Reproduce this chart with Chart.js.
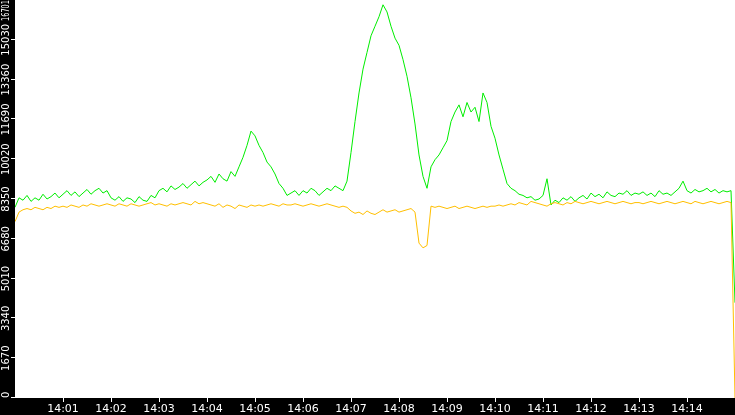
<!DOCTYPE html>
<html><head><meta charset="utf-8">
<script src="https://cdn.jsdelivr.net/npm/chart.js@4"></script>
<style>html,body{margin:0;padding:0;background:#000}#w{width:735px;height:415px}</style>
</head><body><div id="w"><canvas id="c"></canvas></div>
<script>
const stepSeconds = 5;
const green = [
8000,8400,8300,8500,8250,8400,8300,8550,8350,8450,8600,8400,
8550,8700,8500,8650,8450,8600,8750,8550,8700,8800,8600,8700,
8400,8300,8450,8250,8400,8350,8200,8450,8300,8250,8500,8400,
8700,8800,8650,8900,8750,8850,9000,8800,8950,9100,8900,9050,
9150,9300,9050,9400,9200,9100,9500,9300,9700,10100,10600,11200,
11000,10600,10300,9900,9700,9400,9000,8800,8500,8600,8700,8500,
8700,8600,8800,8700,8500,8650,8800,8700,8900,8800,8700,9100,
10300,11600,12800,13800,14500,15200,15600,16000,16500,16200,15600,15100,
14800,14200,13500,12600,11500,10200,9300,8800,9700,10000,10200,10500,
10800,11600,12000,12300,11800,12400,12000,12200,11600,12800,12400,11400,
10900,10200,9600,9000,8800,8700,8550,8500,8400,8450,8300,8350,
8500,9200,8100,8300,8200,8400,8300,8450,8250,8400,8500,8350,
8600,8450,8550,8400,8650,8500,8450,8600,8550,8700,8500,8600,
8550,8650,8500,8600,8450,8700,8550,8600,8500,8650,8800,9100,
8700,8600,8750,8650,8700,8800,8650,8750,8600,8700,8650,8700,4000];
const orange = [
7400,7800,7900,7950,7900,8000,7950,7900,8000,7950,8050,8000,
8050,8000,8100,8050,8000,8100,8050,8150,8100,8050,8100,8150,
8100,8050,8150,8100,8050,8150,8100,8050,8100,8150,8200,8100,
8150,8100,8050,8150,8100,8150,8200,8150,8100,8250,8150,8200,
8150,8100,8050,8150,8000,8100,8050,7950,8100,8050,8000,8100,
8050,8100,8050,8100,8150,8100,8050,8150,8100,8100,8150,8100,
8050,8100,8150,8100,8050,8100,8150,8100,8050,8000,8050,8000,
7850,7750,7800,7700,7850,7750,7700,7800,7900,7800,7850,7900,
7800,7850,7900,7950,7800,6500,6300,6400,8050,8000,8050,8000,
7950,8000,8050,7950,8000,8050,8000,7950,8000,8050,8000,8050,
8050,8100,8050,8100,8150,8100,8200,8150,8100,8250,8200,8150,
8100,8050,8150,8200,8150,8100,8200,8150,8250,8200,8150,8200,
8250,8200,8150,8200,8250,8200,8150,8200,8250,8200,8150,8200,
8200,8150,8200,8250,8200,8150,8200,8250,8200,8150,8200,8250,
8200,8150,8250,8200,8150,8200,8250,8200,8150,8200,8250,8200,0];
const yMax = 16701;
const yTickLabels = ['0','1670','3340','5010','6680','8350','10020','11690','13360','15030','16701'];
const xTickLabels = ['14:00','14:01','14:02','14:03','14:04','14:05','14:06','14:07','14:08','14:09','14:10','14:11','14:12','14:13','14:14','14:15'];

const pts = a => a.map((v,i)=>({x:i*stepSeconds,y:v}));
const font = {family:'DejaVu Sans', size:11};

const bg = {id:'bg', beforeDraw(ch){const c=ch.ctx;c.save();c.fillStyle='#000';c.fillRect(0,0,ch.width,ch.height);
  const a=ch.chartArea;c.fillStyle='#fff';c.fillRect(a.left,a.top,a.right-a.left,a.bottom-a.top);c.restore();}};
const yLab = {id:'ylab', afterDraw(ch){const c=ch.ctx, s=ch.scales.y, a=ch.chartArea;c.save();
  c.fillStyle='#fff';c.strokeStyle='#fff';c.lineWidth=1;c.font='10px DejaVu Sans';c.textAlign='center';c.textBaseline='middle';
  yTickLabels.forEach((t,i)=>{const v=i*yMax/10;const p=s.getPixelForValue(v);
    c.beginPath();c.moveTo(a.left-4,Math.round(p)-0.5);c.lineTo(a.left,Math.round(p)-0.5);c.stroke();
    let w=c.measureText(t).width;let cy=p, sx=1;
    if(cy-w/2<0){sx=21/w;w=21;cy=w/2;}
    if(cy+w/2>a.bottom)cy=a.bottom-w/2;
    c.save();c.translate(6.5,cy);c.rotate(-Math.PI/2);c.scale(sx,1);c.fillText(t,0,0);c.restore();});
  c.restore();}};

new Chart(document.getElementById('c'),{
  type:'line',
  data:{datasets:[
    {data:pts(orange),borderColor:'#ffbf00',borderWidth:1,pointRadius:0,tension:0},
    {data:pts(green),borderColor:'#00ee00',borderWidth:1,pointRadius:0,tension:0}
  ]},
  options:{responsive:true,maintainAspectRatio:false,animation:false,
    layout:{padding:0},
    plugins:{legend:{display:false},tooltip:{enabled:false}},
    scales:{
      x:{type:'linear',min:0,max:900,
        afterBuildTicks(sc){sc.ticks=[];for(let i=1;i<15;i++)sc.ticks.push({value:i*60});},
        ticks:{color:'#fff',font,padding:1,maxRotation:0,autoSkip:false,callback:v=>xTickLabels[Math.round(v/60)]},
        grid:{drawOnChartArea:false,color:'#fff',tickLength:4,drawTicks:true},border:{display:false},
        afterFit(sc){sc.height=17;}},
      y:{min:0,max:yMax,ticks:{display:false},grid:{display:false},border:{display:false},
        afterFit(sc){sc.width=15;}}
    }},
  plugins:[bg,yLab]
});
</script></body></html>
